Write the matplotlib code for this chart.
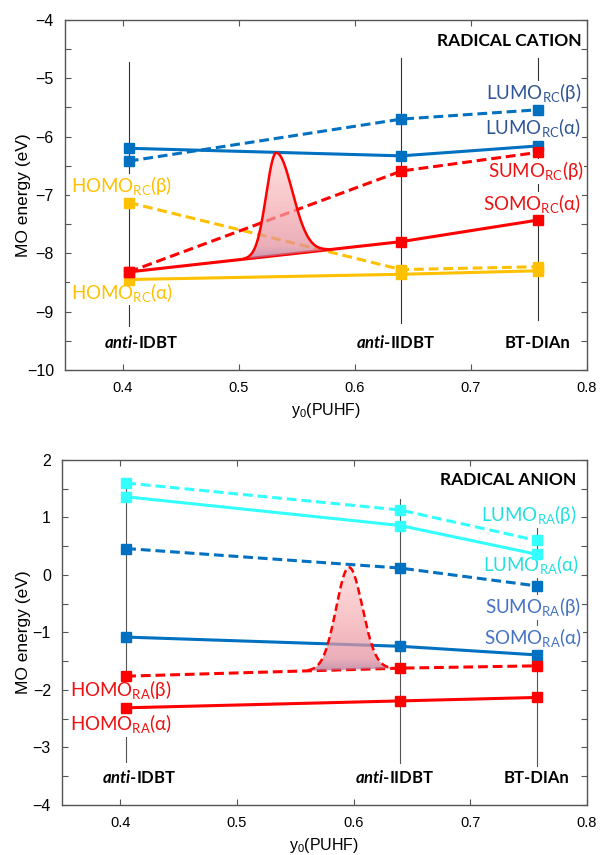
import numpy as np
import matplotlib
matplotlib.use("Agg")
import matplotlib.pyplot as plt
from matplotlib.patches import Polygon
from matplotlib.colors import LinearSegmentedColormap

plt.rcParams['font.family'] = ['Liberation Sans', 'DejaVu Sans']
plt.rcParams['mathtext.fontset'] = 'custom'
plt.rcParams['mathtext.bfit'] = 'Lato:italic:bold'
plt.rcParams['mathtext.rm'] = 'Lato'

LBL_FONT = ['Lato', 'DejaVu Sans']

# ---- data: radical cation (top) ----
x_rc = [0.405, 0.64, 0.758]
lumo_a_rc = [-6.20, -6.33, -6.16]
lumo_b_rc = [-6.42, -5.70, -5.54]
sumo_b_rc = [-8.32, -6.59, -6.27]
somo_a_rc = [-8.32, -7.80, -7.43]
homo_b_rc = [-7.13, -8.28, -8.23]
homo_a_rc = [-8.45, -8.36, -8.30]
vline_rc = [(-4.72, -9.24), (-4.65, -9.19), (-4.65, -9.15)]

# ---- data: radical anion (bottom) ----
x_ra = [0.405, 0.64, 0.757]
lumo_b_ra = [1.60, 1.13, 0.60]
lumo_a_ra = [1.36, 0.86, 0.36]
sumo_b_ra = [0.46, 0.12, -0.19]
somo_a_ra = [-1.08, -1.24, -1.39]
homo_b_ra = [-1.76, -1.62, -1.58]
homo_a_ra = [-2.31, -2.19, -2.13]
vline_ra = [(1.60, -3.25), (1.32, -3.27), (0.83, -3.32)]

molecules = ['anti-IDBT', 'anti-IIDBT', 'BT-DIAn']
mol_x = [0.416, 0.635, 0.757]

# gaussian bumps: centre, sigma left, sigma right, height above base line
gauss_rc = (0.532, 0.0085, 0.014, 1.76)
gauss_ra = (0.596, 0.0110, 0.0115, 1.78)

BLUE = '#0070C0'
RED = '#FF0000'
YELLOW = '#FFC000'
CYAN = '#33FFFF'

fig = plt.figure(figsize=(6.02, 8.55), dpi=100)
ax1 = fig.add_axes([0.108, 0.5673, 0.867, 0.4094])
ax2 = fig.add_axes([0.103, 0.0585, 0.872, 0.4035])

cmap = LinearSegmentedColormap.from_list(
    'bump', [(0.0, '#B06E90'), (0.12, '#E38F9E'), (0.45, '#F4A9AE'),
             (1.0, '#FDD6D6')])


def series(ax, x, y, color, dashed):
    ls = (0, (3.2, 1.6)) if dashed else '-'
    ax.plot(x, y, color=color, lw=2.2, ls=ls, marker='s', ms=7,
            zorder=3, solid_joinstyle='round')


def bump(ax, params, bx, by, dashed):
    c, sl, sr, h = params
    xs = np.linspace(c - 3.2 * sl, c + 3.2 * sr, 200)
    sig = np.where(xs < c, sl, sr)
    base = np.interp(xs, bx, by)
    top = base + h * np.exp(-0.5 * ((xs - c) / sig) ** 2)
    verts = list(zip(xs, top)) + list(zip(xs[::-1], base[::-1]))
    poly = Polygon(verts, closed=True, fc='none', ec='none')
    ax.add_patch(poly)
    grad = np.linspace(0, 1, 256).reshape(-1, 1)
    im = ax.imshow(grad, extent=[xs.min(), xs.max(), base.min(), top.max()],
                   origin='lower', cmap=cmap, aspect='auto', alpha=0.72,
                   zorder=5)
    im.set_clip_path(poly)
    ls = (0, (3.0, 1.6)) if dashed else '-'
    ax.plot(xs, top, color=RED, lw=1.8, ls=ls, zorder=6)


def label(ax, x, y, s, color, ha='right', **kw):
    ax.text(x, y, s, color=color, ha=ha, va='baseline', fontsize=13.5,
            family=LBL_FONT, zorder=2,
            bbox=dict(fc='white', ec='none', pad=0.5), **kw)


def style(ax, ylim, yticks, ylab_x):
    ax.set_xlim(0.35, 0.8)
    ax.set_ylim(*ylim)
    ax.set_xticks([0.4, 0.5, 0.6, 0.7, 0.8])
    ax.set_yticks(yticks)
    ax.set_yticks(np.arange(ylim[0] + 0.5, ylim[1], 1.0), minor=True)
    ax.tick_params(which='both', direction='in', top=True, right=True,
                   length=4.5, width=0.8, color='#555555', pad=8)
    ax.tick_params(axis='y', labelsize=11.5)
    ax.tick_params(axis='x', labelsize=10.5)
    for sp in ax.spines.values():
        sp.set_color('#555555')
        sp.set_linewidth(1.0)
    ax.set_xlabel(r'y$_\mathregular{0}$(PUHF)', fontsize=11.5, labelpad=4)
    ax.set_ylabel('MO energy (eV)', fontsize=12.5)
    ax.yaxis.set_label_coords(ylab_x, 0.5)


# ---------------- top: radical cation ----------------
for xv, (y0, y1) in zip(x_rc, vline_rc):
    ax1.plot([xv, xv], [y0, y1], color='#333333', lw=0.8, zorder=1)

series(ax1, x_rc, lumo_b_rc, BLUE, True)
series(ax1, x_rc, lumo_a_rc, BLUE, False)
series(ax1, x_rc, homo_b_rc, YELLOW, True)
series(ax1, x_rc, homo_a_rc, YELLOW, False)
series(ax1, x_rc, sumo_b_rc, RED, True)
series(ax1, x_rc, somo_a_rc, RED, False)
bump(ax1, gauss_rc, x_rc, somo_a_rc, False)

ax1.text(0.795, -4.44, 'RADICAL CATION', ha='right', va='baseline',
         fontsize=12.5, fontweight='bold', family=LBL_FONT, zorder=2)
label(ax1, 0.795, -5.37, r'LUMO$_\mathregular{RC}$(β)', '#2F5597')
label(ax1, 0.795, -5.97, r'LUMO$_\mathregular{RC}$(α)', '#2F5597')
label(ax1, 0.797, -6.71, r'SUMO$_\mathregular{RC}$(β)', '#EE1111')
label(ax1, 0.795, -7.27, r'SOMO$_\mathregular{RC}$(α)', '#EE1111')
label(ax1, 0.355, -6.96, r'HOMO$_\mathregular{RC}$(β)', YELLOW, ha='left')
label(ax1, 0.355, -8.79, r'HOMO$_\mathregular{RC}$(α)', YELLOW, ha='left')

style(ax1, (-10, -4), np.arange(-10, -3, 1), -0.066)

# ---------------- bottom: radical anion ----------------
for xv, (y0, y1) in zip(x_ra, vline_ra):
    ax2.plot([xv, xv], [y0, y1], color='#555555', lw=0.8, zorder=1)

series(ax2, x_ra, lumo_b_ra, CYAN, True)
series(ax2, x_ra, lumo_a_ra, CYAN, False)
series(ax2, x_ra, sumo_b_ra, BLUE, True)
series(ax2, x_ra, somo_a_ra, BLUE, False)
series(ax2, x_ra, homo_b_ra, RED, True)
series(ax2, x_ra, homo_a_ra, RED, False)
bump(ax2, gauss_ra, x_ra, homo_b_ra, True)

ax2.text(0.791, 1.565, 'RADICAL ANION', ha='right', va='baseline',
         fontsize=12.5, fontweight='bold', family=LBL_FONT, zorder=2)
label(ax2, 0.791, 0.93, r'LUMO$_\mathregular{RA}$(β)', '#22E0E0')
label(ax2, 0.793, 0.06, r'LUMO$_\mathregular{RA}$(α)', '#22E0E0')
label(ax2, 0.795, -0.68, r'SUMO$_\mathregular{RA}$(β)', '#4472C4')
label(ax2, 0.796, -1.22, r'SOMO$_\mathregular{RA}$(α)', '#4472C4')
label(ax2, 0.357, -2.12, r'HOMO$_\mathregular{RA}$(β)', '#EE1111', ha='left')
label(ax2, 0.357, -2.71, r'HOMO$_\mathregular{RA}$(α)', '#EE1111', ha='left')

style(ax2, (-4, 2), np.arange(-4, 3, 1), -0.060)

# molecule names under each column
for ax, ybase in [(ax1, -9.63), (ax2, -3.62)]:
    for name, xm in zip(molecules, mol_x):
        if name.startswith('anti-'):
            s = r'$\mathbfit{anti}$' + name[4:]
        else:
            s = name
        ax.text(xm, ybase, s, ha='center', va='baseline', fontsize=12,
                fontweight='bold', family=LBL_FONT, zorder=2,
                bbox=dict(fc='white', ec='none', pad=0.5))

fig.savefig('out.png', dpi=100)
